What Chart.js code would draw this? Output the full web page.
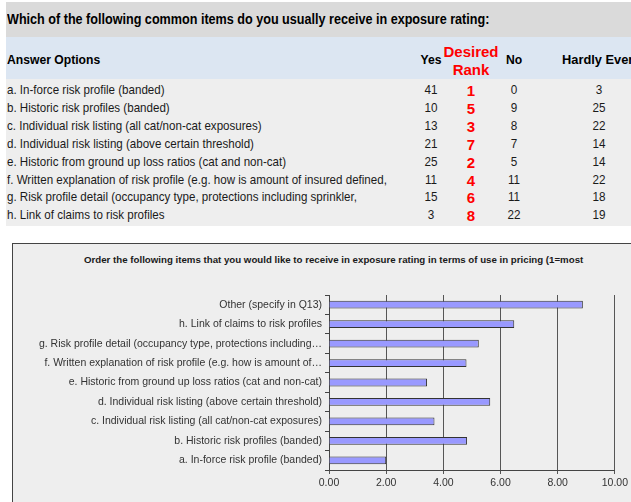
<!DOCTYPE html>
<html>
<head>
<meta charset="utf-8">
<script src="https://cdn.jsdelivr.net/npm/chart.js@4/dist/chart.umd.min.js"></script>
<style>
  body { margin: 0; width: 631px; height: 502px; overflow: hidden; background: #fff; position: relative; font-family: "Liberation Sans", Arial, sans-serif; }
  .band { position: absolute; left: 6px; right: 0; }
  .t { position: absolute; white-space: nowrap; height: 18px; line-height: 18px; }
  .q { font-weight: bold; font-size: 14px; color: #000; }
  .h { font-weight: bold; font-size: 13.5px; color: #000; }
  .red { font-weight: bold; font-size: 15px; color: #f00; }
  .row { font-size: 13px; color: #1a1a1a; }
  #box { position: absolute; left: 12px; top: 243px; width: 640px; height: 280px; background: #eee; border: 1px solid #444; }
  #boxTitle { position: absolute; left: 71px; top: 10px; font-weight: bold; font-size: 9.7px; color: #1a1a1a; white-space: nowrap; }
  #rankChart { position: absolute; left: 0; top: 0; }
</style>
</head>
<body>
<div class="band" style="top:2px;height:35px;background:#dadada"></div>
<div class="band" style="top:37px;height:42px;background:#dce6f2"></div>
<div class="band" style="top:79px;height:147px;background:#eeeeee"></div>
<div id="table"></div>

<div id="box">
  <div id="boxTitle">Order the following items that you would like to receive in exposure rating in terms of use in pricing (1=most</div>
  <canvas id="rankChart" width="618" height="258"></canvas>
</div>

<script>
// survey table
const answerOptions = [
  'a. In-force risk profile (banded)',
  'b. Historic risk profiles (banded)',
  'c. Individual risk listing (all cat/non-cat exposures)',
  'd. Individual risk listing (above certain threshold)',
  'e. Historic from ground up loss ratios (cat and non-cat)',
  'f. Written explanation of risk profile (e.g. how is amount of insured defined,',
  'g. Risk profile detail (occupancy type, protections including sprinkler,',
  'h. Link of claims to risk profiles'
];
const yesCounts = [41, 10, 13, 21, 25, 11, 15, 3];
const desiredRank = [1, 5, 3, 7, 2, 4, 6, 8];
const noCounts = [0, 9, 8, 7, 5, 11, 11, 22];
const hardlyEver = [3, 25, 22, 14, 14, 22, 18, 19];

// average rank chart
const chartLabels = [
  'a. In-force risk profile (banded)',
  'b. Historic risk profiles (banded)',
  'c. Individual risk listing (all cat/non-cat exposures)',
  'd. Individual risk listing (above certain threshold)',
  'e. Historic from ground up loss ratios (cat and non-cat)',
  'f. Written explanation of risk profile (e.g. how is amount of\u2026',
  'g. Risk profile detail (occupancy type, protections including\u2026',
  'h. Link of claims to risk profiles',
  'Other (specify in Q13)'
];
const avgRank = [2.00, 4.83, 3.69, 5.64, 3.43, 4.81, 5.24, 6.48, 8.88];

const table = document.getElementById('table');

// x is the left edge (align 'left') or the centre; y is the vertical centre
function put(text, x, y, cls, align, squeeze) {
  const el = document.createElement('div');
  el.className = 't ' + cls;
  el.textContent = text;
  el.style.top = (y - 9) + 'px';
  el.style.left = x + 'px';
  const sx = squeeze ? ' scaleX(' + squeeze + ')' : '';
  if (align === 'center') {
    el.style.transformOrigin = '50% 50%';
    el.style.transform = 'translateX(-50%)' + sx;
  } else {
    el.style.transformOrigin = '0 50%';
    el.style.transform = sx || 'none';
  }
  table.appendChild(el);
}

put('Which of the following common items do you usually receive in exposure rating:', 7, 19, 'q', 'left', 0.9);
put('Answer Options', 7, 60, 'h', 'left', 0.9);
put('Yes', 431, 60, 'h', 'center', 0.9);
put('Desired', 471, 52, 'red', 'center');
put('Rank', 471, 70, 'red', 'center');
put('No', 514, 60, 'h', 'center', 0.9);
put('Hardly Ever', 562, 60, 'h', 'left', 0.95);

answerOptions.forEach((label, i) => {
  const y = 90 + i * 17.9;
  put(label, 7, y, 'row', 'left', 0.89);
  put(String(yesCounts[i]), 431, y, 'row', 'center', 0.9);
  put(String(desiredRank[i]), 471, y + 1, 'red', 'center');
  put(String(noCounts[i]), 514, y, 'row', 'center', 0.9);
  put(String(hardlyEver[i]), 599, y, 'row', 'center', 0.9);
});

const tickFont = { family: '"Liberation Sans", Arial, sans-serif', size: 10.5 };

new Chart(document.getElementById('rankChart'), {
  type: 'bar',
  data: {
    labels: chartLabels,
    datasets: [{
      data: avgRank,
      backgroundColor: '#9999ff',
      borderColor: '#333',
      borderWidth: 1,
      categoryPercentage: 0.4,
      barPercentage: 1
    }]
  },
  options: {
    indexAxis: 'y',
    responsive: false,
    animation: false,
    layout: { padding: { top: 51, right: 14, bottom: 12, left: 0 } },
    plugins: { legend: { display: false }, tooltip: { enabled: false } },
    scales: {
      x: {
        min: 0,
        max: 10,
        afterFit: s => { s.height = 20; },
        ticks: { stepSize: 2, color: '#333', font: tickFont, padding: 3, maxRotation: 0, callback: v => v.toFixed(2) },
        grid: { color: '#555', tickLength: 4 },
        border: { color: '#444' }
      },
      y: {
        reverse: true,
        afterFit: s => { s.width = 316; },
        ticks: { color: '#333', font: tickFont, padding: 3, autoSkip: false },
        grid: { offset: true, drawOnChartArea: false, tickLength: 4, color: '#444' },
        border: { color: '#444' }
      }
    }
  }
});
</script>
</body>
</html>
